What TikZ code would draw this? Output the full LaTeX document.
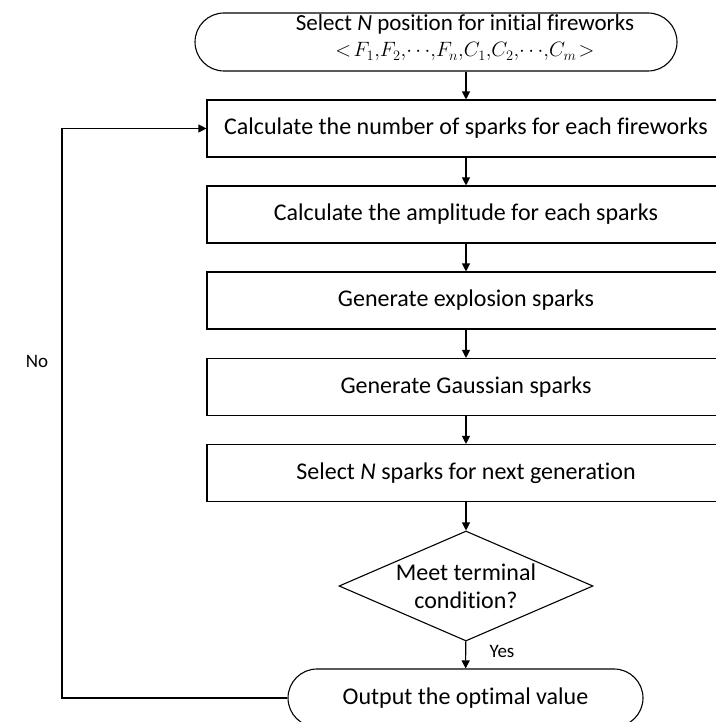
\documentclass[tikz,border=0pt]{standalone}
\usepackage{fontspec}
\setmainfont{Carlito}[Ligatures=NoCommon]
\usetikzlibrary{shapes.geometric,shapes.misc,arrows.meta}
\begin{document}
\begin{tikzpicture}[x=1pt,y=-1pt,
  every node/.style={font=\fontsize{24}{28}\selectfont},
  proc/.style={draw,line width=1.1pt,rectangle,minimum width=518pt,minimum height=57pt,inner sep=0pt},
  term/.style={draw,line width=1.1pt,rounded rectangle,minimum height=58pt,inner sep=0pt},
  dec/.style={draw,line width=1.1pt,diamond,aspect=2.3,inner sep=0pt,minimum width=254pt,minimum height=110pt},
  arr/.style={line width=1.1pt,-{Triangle[length=8pt,width=8pt]}},
  lbl/.style={font=\fontsize{19}{22}\selectfont}]
\useasboundingbox (0,0) rectangle (715,722);
\node[term,minimum width=482pt] (t1) at (436,42) {};
\node[anchor=base,inner sep=0pt,font=\fontsize{23}{26}\selectfont] (t1txt) at (465,31) {Select \textit{N} position for initial fireworks};
\node[anchor=base,inner sep=0pt,font=\fontsize{20}{22}\selectfont] (t1math) at (465,57)
  {$<\!F_1,\!F_2,\!\cdots\!,\!F_n,\!C_1,\!C_2,\!\cdots\!,\!C_m\!>$};
\node[proc] (b1) at (466,128.5) {Calculate the number of sparks for each fireworks};
\node[proc] (b2) at (466,214.5) {Calculate the amplitude for each sparks};
\node[proc] (b3) at (466,300.5) {Generate explosion sparks};
\node[proc] (b4) at (466,387) {Generate Gaussian sparks};
\node[proc] (b5) at (466,473) {Select \textit{N} sparks for next generation};
\node[dec] (d) at (466,586) {};
\node[align=center] (dtxt) at (466,586) {Meet terminal\\condition?};
\node[term,minimum width=355pt] (t2) at (465.5,698) {Output the optimal value};
\coordinate (c1) at (62,698);
\coordinate (c2) at (62,128.5);
\draw[arr] (t1.south -| b1.north) -- (b1.north);
\draw[arr] (b1) -- (b2);
\draw[arr] (b2) -- (b3);
\draw[arr] (b3) -- (b4);
\draw[arr] (b4) -- (b5);
\draw[arr] (b5) -- (d);
\draw[arr] (d) -- (t2);
\draw[arr] (t2.west) -- (c1) -- (c2) -- (b1.west);
\node[lbl] (no) at (37,361) {No};
\node[lbl] (yes) at (502,651) {Yes};
\end{tikzpicture}
\end{document}
